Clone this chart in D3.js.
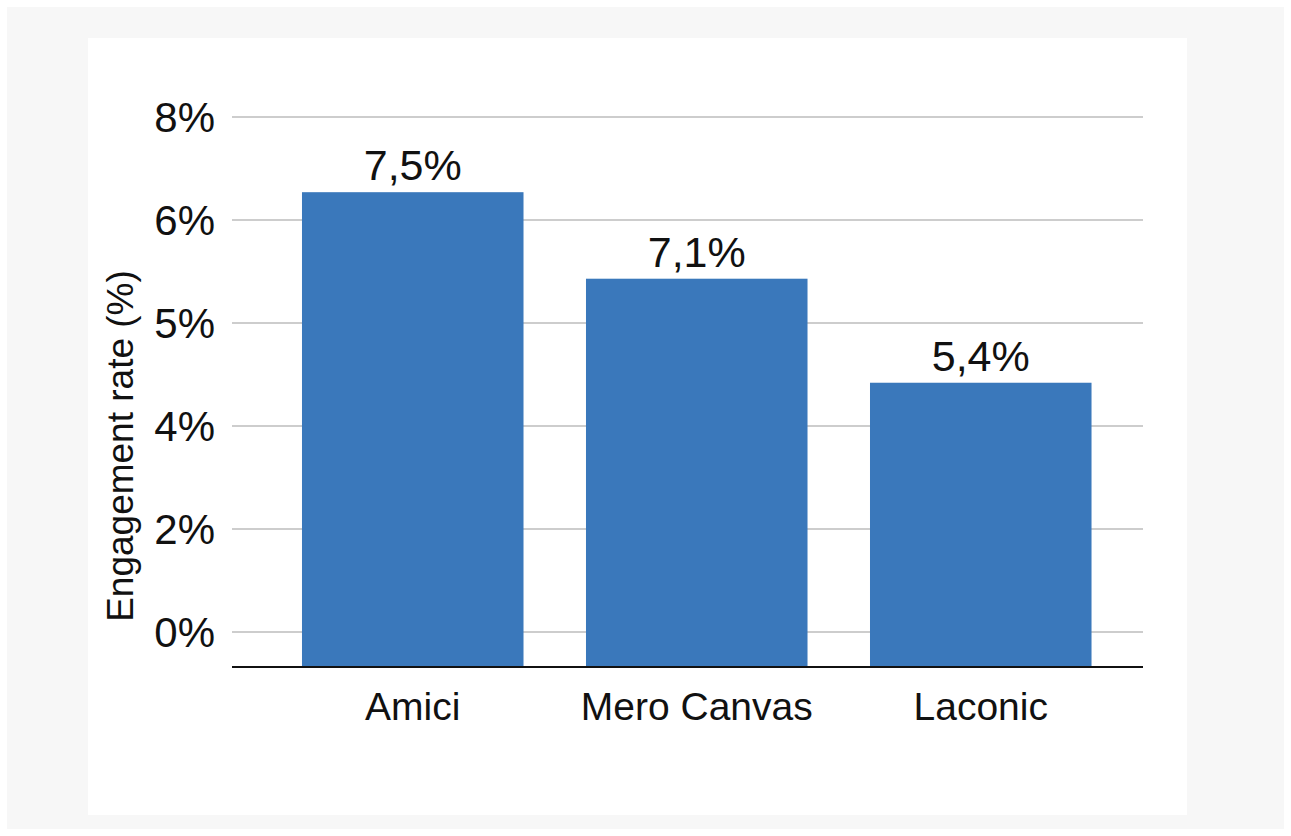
<!DOCTYPE html>
<html>
<head>
<meta charset="utf-8">
<script src="https://cdn.jsdelivr.net/npm/d3@7/dist/d3.min.js"></script>
<style>
  html, body { margin: 0; padding: 0; background: #ffffff; }
  svg { display: block; }
  text { font-family: "Liberation Sans", Arial, Helvetica, sans-serif; fill: #111; }
</style>
</head>
<body>
<svg id="chart" width="1291" height="836"></svg>
<script>
// ---- data ----
const categories = ["Amici", "Mero Canvas", "Laconic"];
const barValues = [6.54, 5.43, 4.42];          // bar tops as read against the drawn axis
const valueLabels = ["7,5%", "7,1%", "5,4%"];  // labels printed above the bars
const tickValues = [0, 2, 4, 5, 6, 8];
const tickLabels = ["0%", "2%", "4%", "5%", "6%", "8%"];
const yTitle = "Engagement rate (%)";

// ---- layout ----
const svg = d3.select("#chart");
svg.append("rect").attr("x", 7).attr("y", 7).attr("width", 1277).attr("height", 822).attr("fill", "#f7f7f7");
svg.append("rect").attr("x", 88).attr("y", 38).attr("width", 1099).attr("height", 777).attr("fill", "#ffffff");

const plotLeft = 232, plotRight = 1143, plotBottom = 667;
const topTick = 117, bottomTick = 632;
const step = (bottomTick - topTick) / (tickValues.length - 1);

// polylinear scale: evenly spaced tick positions
const y = d3.scaleLinear()
  .domain(tickValues)
  .range(tickValues.map((d, i) => bottomTick - i * step));

const x = d3.scaleBand()
  .domain(categories)
  .range([239.5, 1154])
  .paddingInner(0.22)
  .paddingOuter(0.22);

// gridlines
svg.append("g").selectAll("line").data(tickValues).join("line")
  .attr("x1", plotLeft).attr("x2", plotRight)
  .attr("y1", d => y(d)).attr("y2", d => y(d))
  .attr("stroke", "#bdbdbd").attr("stroke-width", 1.5);

// tick labels
svg.append("g").selectAll("text").data(tickValues).join("text")
  .attr("x", 215).attr("y", d => y(d))
  .attr("text-anchor", "end").attr("dominant-baseline", "central")
  .attr("font-size", 42)
  .text((d, i) => tickLabels[i]);

// bars
svg.append("g").selectAll("rect").data(categories).join("rect")
  .attr("x", d => x(d))
  .attr("width", x.bandwidth())
  .attr("y", (d, i) => y(barValues[i]))
  .attr("height", (d, i) => plotBottom - y(barValues[i]))
  .attr("fill", "#3a78bb");

// value labels
svg.append("g").selectAll("text").data(categories).join("text")
  .attr("x", d => x(d) + x.bandwidth() / 2)
  .attr("y", (d, i) => y(barValues[i]) - 12)
  .attr("text-anchor", "middle")
  .attr("font-size", 43)
  .text((d, i) => valueLabels[i]);

// baseline
svg.append("line")
  .attr("x1", plotLeft).attr("x2", plotRight)
  .attr("y1", plotBottom).attr("y2", plotBottom)
  .attr("stroke", "#111").attr("stroke-width", 2);

// category labels
svg.append("g").selectAll("text").data(categories).join("text")
  .attr("x", d => x(d) + x.bandwidth() / 2)
  .attr("y", 720)
  .attr("text-anchor", "middle")
  .attr("font-size", 39)
  .text(d => d);

// y title
svg.append("text")
  .attr("transform", "translate(133,446) rotate(-90)")
  .attr("text-anchor", "middle")
  .attr("font-size", 37)
  .text(yTitle);
</script>
</body>
</html>
